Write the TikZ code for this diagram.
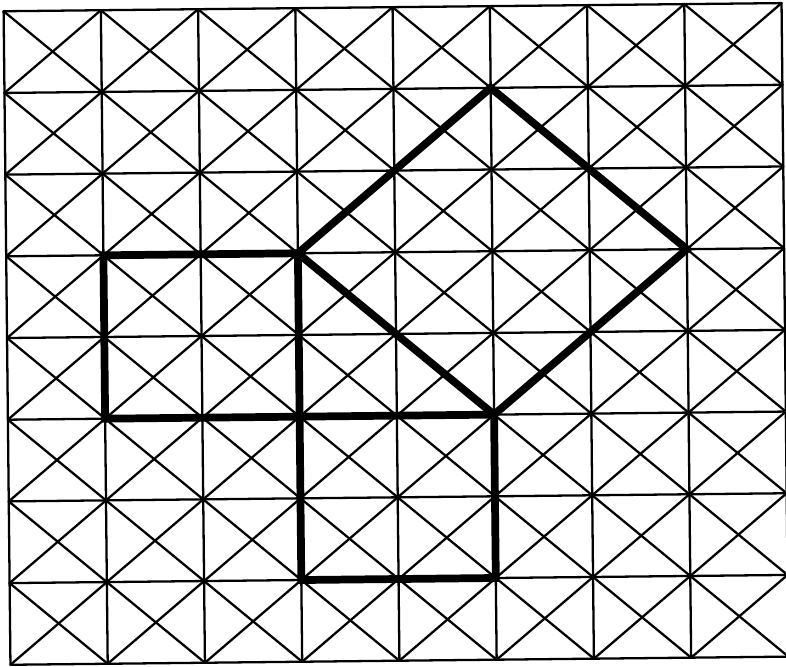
\documentclass[tikz,border=0pt]{standalone}
\usepackage{tikz}

\begin{document}
\begin{tikzpicture}[thinline/.style={line width=1.3pt},
  sqline/.style={line width=4.4pt,line join=miter},line cap=round]
\useasboundingbox (0,0) rectangle (15.72,13.34);
\begin{scope}[rotate around={0.6:(7.92,6.66)}]
\begin{scope}[shift={(0.14,0.125)},x=1.945cm,y=1.634cm]
% grid of cells, each with both diagonals
\foreach \k in {0,...,8} {
  \draw[thinline] (\k,0) -- (\k,8);
  \draw[thinline] (0,\k) -- (8,\k);
}
\foreach \i in {0,...,7}
  \foreach \j in {0,...,7} {
    \draw[thinline] (\i,\j) -- ++(1,1);
    \draw[thinline] (\i+1,\j) -- ++(-1,1);
  }
% squares on the sides of the triangle
\coordinate (A) at (3,5);
\coordinate (B) at (3,3);
\coordinate (C) at (5,3);
\draw[sqline] (A) -- (1,5) -- (1,3) -- (B) -- cycle;
\draw[sqline] (B) -- (C) -- (5,1) -- (3,1) -- cycle;
\draw[sqline] (A) -- (5,7) -- (7,5) -- (C) -- cycle;
\end{scope}
\end{scope}
\end{tikzpicture}
\end{document}
